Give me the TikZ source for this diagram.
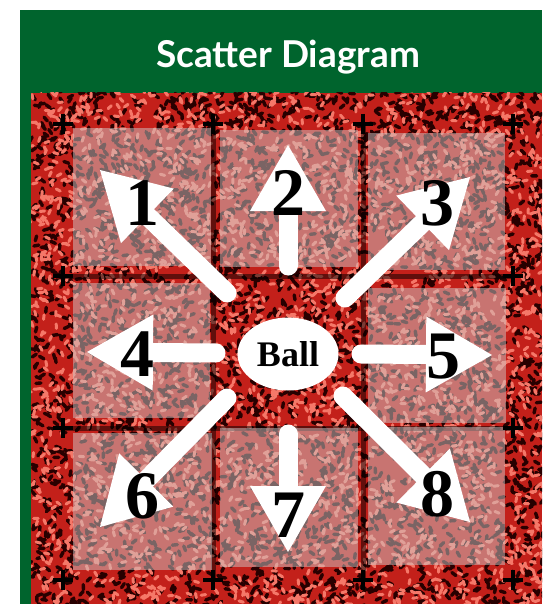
\documentclass[tikz,border=0pt]{standalone}
\usepackage{fontspec}
\usetikzlibrary{calc,shapes.geometric}
\newfontfamily\titlefont{Lato}
\newfontfamily\numfont{Liberation Serif}
\definecolor{hdrgreen}{RGB}{0,100,45}
\definecolor{redbase}{RGB}{195,32,26}
\definecolor{texdark}{RGB}{40,0,0}
\definecolor{texlight}{RGB}{245,120,105}
\definecolor{sqfill}{RGB}{205,200,200}
\tikzset{
  sqbox/.style={fill=sqfill, fill opacity=0.5, draw=none},
  gridline/.style={draw=black, opacity=0.5, line width=5pt},
  plusmark/.style={draw=black, line width=4.5pt},
  shaft/.style={draw=white, line width=19pt, line cap=round},
  numlabel/.style={font=\numfont\bfseries\fontsize{68}{68}\selectfont, text=black, inner sep=0pt},
}
\newcommand\scarrow[2]{%
  \coordinate (#2m) at ($(#2)!66pt!(#1)$);
  \draw[shaft] (#1) -- (#2m);
  \fill[white] (#2) -- ($(#2m)!38pt!90:(#2)$) -- ($(#2m)!38pt!-90:(#2)$) -- cycle;
}
\begin{document}
\begin{tikzpicture}[x=1pt,y=-1pt]
\useasboundingbox (0,0) rectangle (542,604);
\fill[white] (0,0) rectangle (542,604);
% green frame
\fill[hdrgreen] (20,10) rectangle (542,604);
\node[font=\titlefont\bfseries\fontsize{37}{37}\selectfont, text=white] (title) at (288,57) {Scatter Diagram};
% textured red field
\begin{scope}
  \clip (31,93) rectangle (542,604);
  \fill[redbase] (31,93) rectangle (542,604);
  \pgfmathsetseed{17}
  \draw[texdark, line width=3.4pt, line cap=round]
    foreach \i in {1,...,4200} { ({31+515*rnd},{90+515*rnd}) -- ++({360*rnd}:5) };
  \draw[texlight, line width=3pt, line cap=round]
    foreach \i in {1,...,3000} { ({31+515*rnd},{90+515*rnd}) -- ++({360*rnd}:4.5) };
\end{scope}
% grid lines
\draw[gridline] (213,124) -- (213,580);
\draw[gridline] (363,124) -- (363,580);
\draw[gridline] (63,276) -- (513,276);
\draw[gridline] (63,428) -- (513,428);
% squares
\fill[sqbox] (73,128) rectangle (211,266);
\fill[sqbox] (220,130) rectangle (358,267);
\fill[sqbox] (368,133) rectangle (505,270);
\fill[sqbox] (73,283) rectangle (210,418);
\fill[sqbox] (368,288) rectangle (506,423);
\fill[sqbox] (73,433) rectangle (212,570);
\fill[sqbox] (220,428) rectangle (358,567);
\fill[sqbox] (368,427) rectangle (505,565);
% plus marks
\foreach \px/\py in {63/124,213/124,363/124,513/124,63/276,513/276,63/428,513/428,63/580,213/580,363/580,513/580}{
  \draw[plusmark] (\px-10,\py) -- (\px+10,\py);
  \draw[plusmark] (\px,\py-10) -- (\px,\py+10);
}
% arrows
\coordinate (s1) at (227,293); \coordinate (t1) at (100,170);
\coordinate (s2) at (288,266); \coordinate (t2) at (288,145);
\coordinate (s3) at (345,298); \coordinate (t3) at (470,177);
\coordinate (s4) at (216,353); \coordinate (t4) at (87,352);
\coordinate (s5) at (361,354); \coordinate (t5) at (492,355);
\coordinate (s6) at (227,398); \coordinate (t6) at (100,527);
\coordinate (s7) at (288,434); \coordinate (t7) at (288,552);
\coordinate (s8) at (343,396); \coordinate (t8) at (470,522);
\scarrow{s1}{t1}
\scarrow{s2}{t2}
\scarrow{s3}{t3}
\scarrow{s4}{t4}
\scarrow{s5}{t5}
\scarrow{s6}{t6}
\scarrow{s7}{t7}
\scarrow{s8}{t8}
% ball
\node[ellipse, fill=white, minimum width=101pt, minimum height=73pt, inner sep=0pt,
      font=\numfont\bfseries\fontsize{36}{36}\selectfont] (ball) at (288,354) {Ball};
% numbers
\node[numlabel] (n1) at (142,203) {1};
\node[numlabel] (n2) at (288,193) {2};
\node[numlabel] (n3) at (437,203) {3};
\node[numlabel] (n4) at (137,354) {4};
\node[numlabel] (n5) at (443,357) {5};
\node[numlabel] (n6) at (142,496) {6};
\node[numlabel] (n7) at (288,515) {7};
\node[numlabel] (n8) at (437,494) {8};
\end{tikzpicture}
\end{document}
